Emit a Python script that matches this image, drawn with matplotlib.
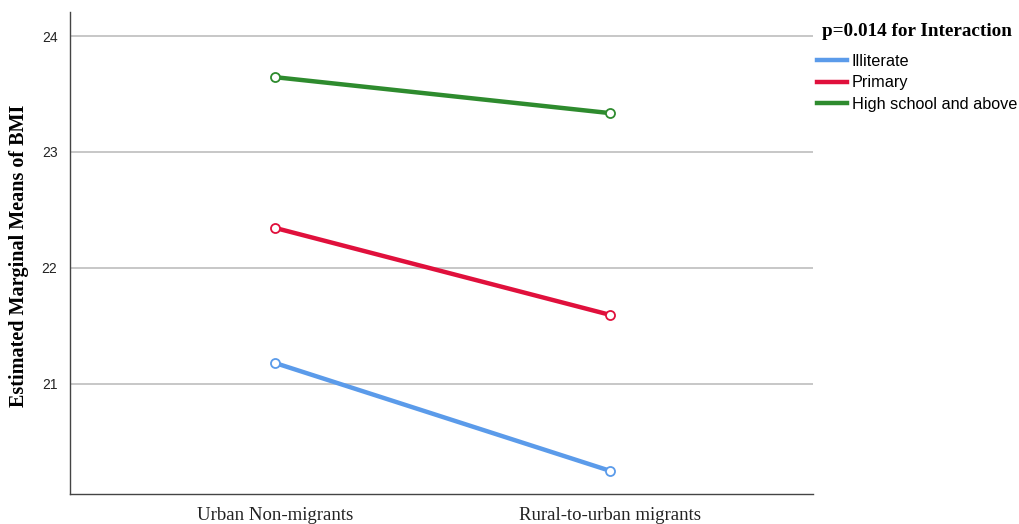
import matplotlib
matplotlib.use("Agg")
import matplotlib.pyplot as plt
from matplotlib.lines import Line2D

categories = ["Urban Non-migrants", "Rural-to-urban migrants"]
series_names = ["Illiterate", "Primary", "High school and above"]
illiterate = [21.18, 20.25]
primary = [22.345, 21.595]
high_school = [23.645, 23.335]
yticks = [21, 22, 23, 24]
colors = ["#5b9bea", "#e0103c", "#2e8b2e"]
values = [illiterate, primary, high_school]

fig = plt.figure(figsize=(10.2, 5.24), dpi=100)
ax = fig.add_axes([70/1020, 1-494/524, (813-70)/1020, (494-12)/524])

x = list(range(len(categories)))
for name, vals, c in zip(series_names, values, colors):
    ax.plot(x, vals, color=c, lw=3.2, solid_capstyle="round", zorder=3)
    ax.plot(x, vals, 'o', ms=6.5, mfc="white", mec=c, mew=1.3, zorder=4)

ax.set_xlim(-0.612, 1.606)
ax.set_ylim(20.05, 24.207)
ax.set_yticks(yticks)
ax.set_yticklabels([str(t) for t in yticks], family="Liberation Sans", fontsize=10, color="#222222")
ax.set_xticks(x)
ax.set_xticklabels(categories, family="Liberation Serif", fontsize=13.5, color="#222222")
ax.tick_params(length=0, pad=9)
ax.tick_params(axis='x', pad=9)
ax.grid(axis='y', color="#bdbdbd", lw=1.2)
ax.set_axisbelow(True)
for s in ["top", "right"]:
    ax.spines[s].set_visible(False)
for s in ["left", "bottom"]:
    ax.spines[s].set_color("#444444")
    ax.spines[s].set_linewidth(1.0)

fig.text(19/1020, 1-256/524, "Estimated Marginal Means of BMI", family="Liberation Serif",
         fontweight="bold", fontsize=14.5, rotation=90, ha="center", va="center")

fig.text(822/1020, 1-31.5/524, "p=0.014 for Interaction", family="Liberation Serif",
         fontweight="bold", fontsize=13.8, ha="left", va="center")

handles = [Line2D([0], [0], color=c, lw=3.2) for c in colors]
leg = fig.legend(handles, series_names, loc="upper left",
                 bbox_to_anchor=(817/1020, 1-54/524), frameon=False,
                 prop={"family": "Liberation Sans", "size": 11.7},
                 handlelength=1.85, handletextpad=0.3, labelspacing=0.4,
                 borderaxespad=0, borderpad=0)
fig.savefig("out.png", dpi=100, facecolor="white")
